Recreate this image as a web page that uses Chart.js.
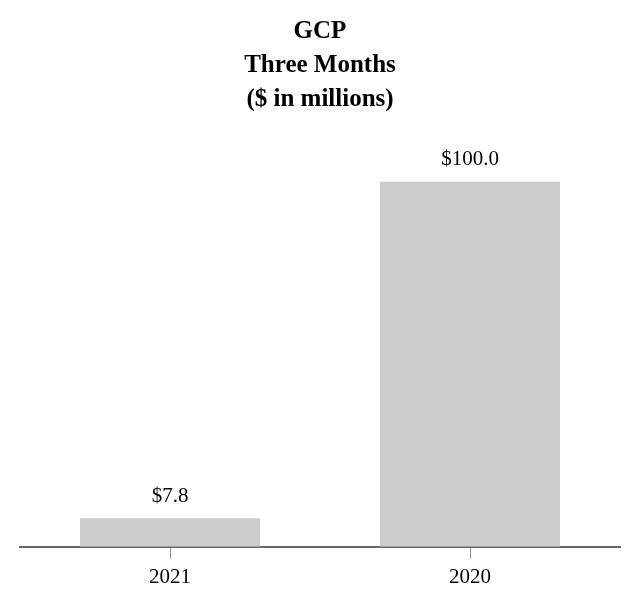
<!DOCTYPE html>
<html>
<head>
<meta charset="utf-8">
<script src="https://cdn.jsdelivr.net/npm/chart.js@4.4.1/dist/chart.umd.min.js"></script>
<style>
	html, body { margin: 0; padding: 0; background: #fff; }
	#wrap { width: 640px; height: 612px; }
</style>
</head>
<body>
<div id="wrap"><canvas id="gcp_chart"></canvas></div>
<script>
const categories = ["2021", "2020"];
const values = [7.8, 100.0];
const valueLabels = ["$7.8", "$100.0"];
const titleLines = ["GCP", "Three Months", "($ in millions)"];

const serif = "'Liberation Serif', 'Times New Roman', serif";

// writes the dollar amount above each bar
const barLabels = {
	id: "barLabels",
	afterDatasetsDraw: function(chart) {
		const ctx = chart.ctx;
		const meta = chart.getDatasetMeta(0);
		ctx.save();
		ctx.font = "21px " + serif;
		ctx.fillStyle = "#000";
		ctx.textAlign = "center";
		ctx.textBaseline = "middle";
		meta.data.forEach(function(bar, i) {
			ctx.fillText(valueLabels[i], bar.x, bar.y - 22);
		});
		ctx.restore();
	}
};

new Chart(document.getElementById("gcp_chart"), {
	type: "bar",
	data: {
		labels: categories,
		datasets: [{
			data: values,
			backgroundColor: "#cccccc",
			borderWidth: 0,
			barPercentage: 0.6,
			categoryPercentage: 1.0,
		}]
	},
	options: {
		responsive: true,
		maintainAspectRatio: false,
		animation: false,
		layout: { padding: { left: 20, right: 20, top: 0, bottom: 16 } },
		plugins: {
			legend: { display: false },
			tooltip: { enabled: false },
			title: {
				display: true,
				text: titleLines,
				color: "#000",
				font: { family: serif, size: 25, weight: "bold", lineHeight: 1.36 },
				padding: { top: 15, bottom: 10 },
			},
		},
		scales: {
			x: {
				grid: { offset: false, drawOnChartArea: false, drawTicks: true, tickLength: 12, color: "#999" },
				border: { display: true, color: "#666", width: 2 },
				ticks: { color: "#000", font: { family: serif, size: 21 }, padding: 6 },
			},
			y: {
				display: false,
				min: 0,
				max: 115,
			}
		}
	},
	plugins: [barLabels]
});
</script>
</body>
</html>
